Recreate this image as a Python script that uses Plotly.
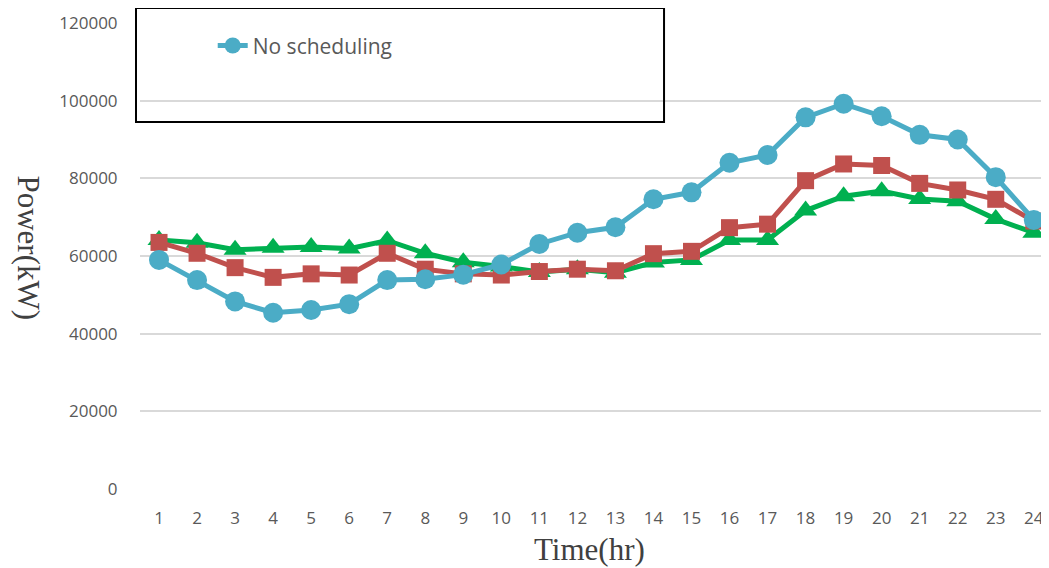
import plotly.graph_objects as go

hours = list(range(1, 25))
no_sched = [59000, 53800, 48300, 45400, 46100, 47600, 53800, 54000, 55200, 57800,
            63100, 66000, 67400, 74600, 76400, 84000, 86000, 95700, 99200, 96000,
            91200, 90000, 80300, 69300]
sched_a = [63500, 60700, 57000, 54500, 55400, 55100, 60700, 56600, 55400, 55100,
           56000, 56600, 56200, 60600, 61200, 67300, 68200, 79400, 83700, 83300,
           78700, 77000, 74600, 69000]
sched_b = [64100, 63400, 61600, 62100, 62300, 61900, 64000, 60700, 58400, 57300,
           55900, 56600, 55700, 58300, 59000, 64100, 64100, 71700, 75400, 76700,
           74700, 74100, 69500, 66000]

fig = go.Figure()
fig.add_trace(go.Scatter(x=hours, y=sched_b, name="Scheduling (B)", mode="lines+markers",
                         line=dict(color="#00B050", width=5),
                         marker=dict(symbol="triangle-up", size=20, color="#00B050"),
                         showlegend=False))
fig.add_trace(go.Scatter(x=hours, y=sched_a, name="Scheduling (A)", mode="lines+markers",
                         line=dict(color="#C0504D", width=5),
                         marker=dict(symbol="square", size=17, color="#C0504D"),
                         showlegend=False))
fig.add_trace(go.Scatter(x=hours, y=no_sched, name="No scheduling", mode="lines+markers",
                         line=dict(color="#4BACC6", width=5),
                         marker=dict(symbol="circle", size=20, color="#4BACC6")))

tick_font = dict(family="Open Sans, sans-serif", size=17, color="#595959")

# page body has an 8px margin, so the figure is shrunk by that much
fig.update_layout(
    width=1041, height=560,
    paper_bgcolor="white", plot_bgcolor="white",
    margin=dict(l=132, r=0, t=15, b=79),
    xaxis=dict(range=[0.5, 24.4], tickmode="array", tickvals=hours,
               showgrid=False, zeroline=False, showline=False,
               ticks="outside", ticklen=14, tickcolor="rgba(0,0,0,0)",
               tickfont=tick_font),
    yaxis=dict(range=[0, 120000], dtick=20000, tickformat="d",
               showgrid=True, gridcolor="#D9D9D9", gridwidth=1.5,
               zeroline=False, showline=False,
               ticks="outside", ticklen=18, tickcolor="rgba(0,0,0,0)",
               tickfont=tick_font),
    legend=dict(x=0.08, y=0.951, xanchor="left", yanchor="middle",
                bgcolor="rgba(0,0,0,0)",
                font=dict(family="Open Sans, sans-serif", size=21, color="#595959")),
    showlegend=True,
)

# legend frame
fig.add_shape(type="rect", xref="paper", yref="paper",
              x0=-0.0044, x1=0.5765, y0=0.7876, y1=1.032,
              line=dict(color="black", width=2), fillcolor="rgba(0,0,0,0)")

fig.add_annotation(text="Time(hr)", xref="paper", yref="paper", x=0.494, y=-0.129,
                   showarrow=False, yanchor="middle",
                   font=dict(family="Liberation Serif, serif", size=31, color="#404040"))
fig.add_annotation(text="Power(kW)", xref="paper", yref="paper", x=-0.144, y=0.517,
                   showarrow=False, textangle=90,
                   font=dict(family="Liberation Serif, serif", size=31, color="#404040"))

fig.write_html("out.html")
